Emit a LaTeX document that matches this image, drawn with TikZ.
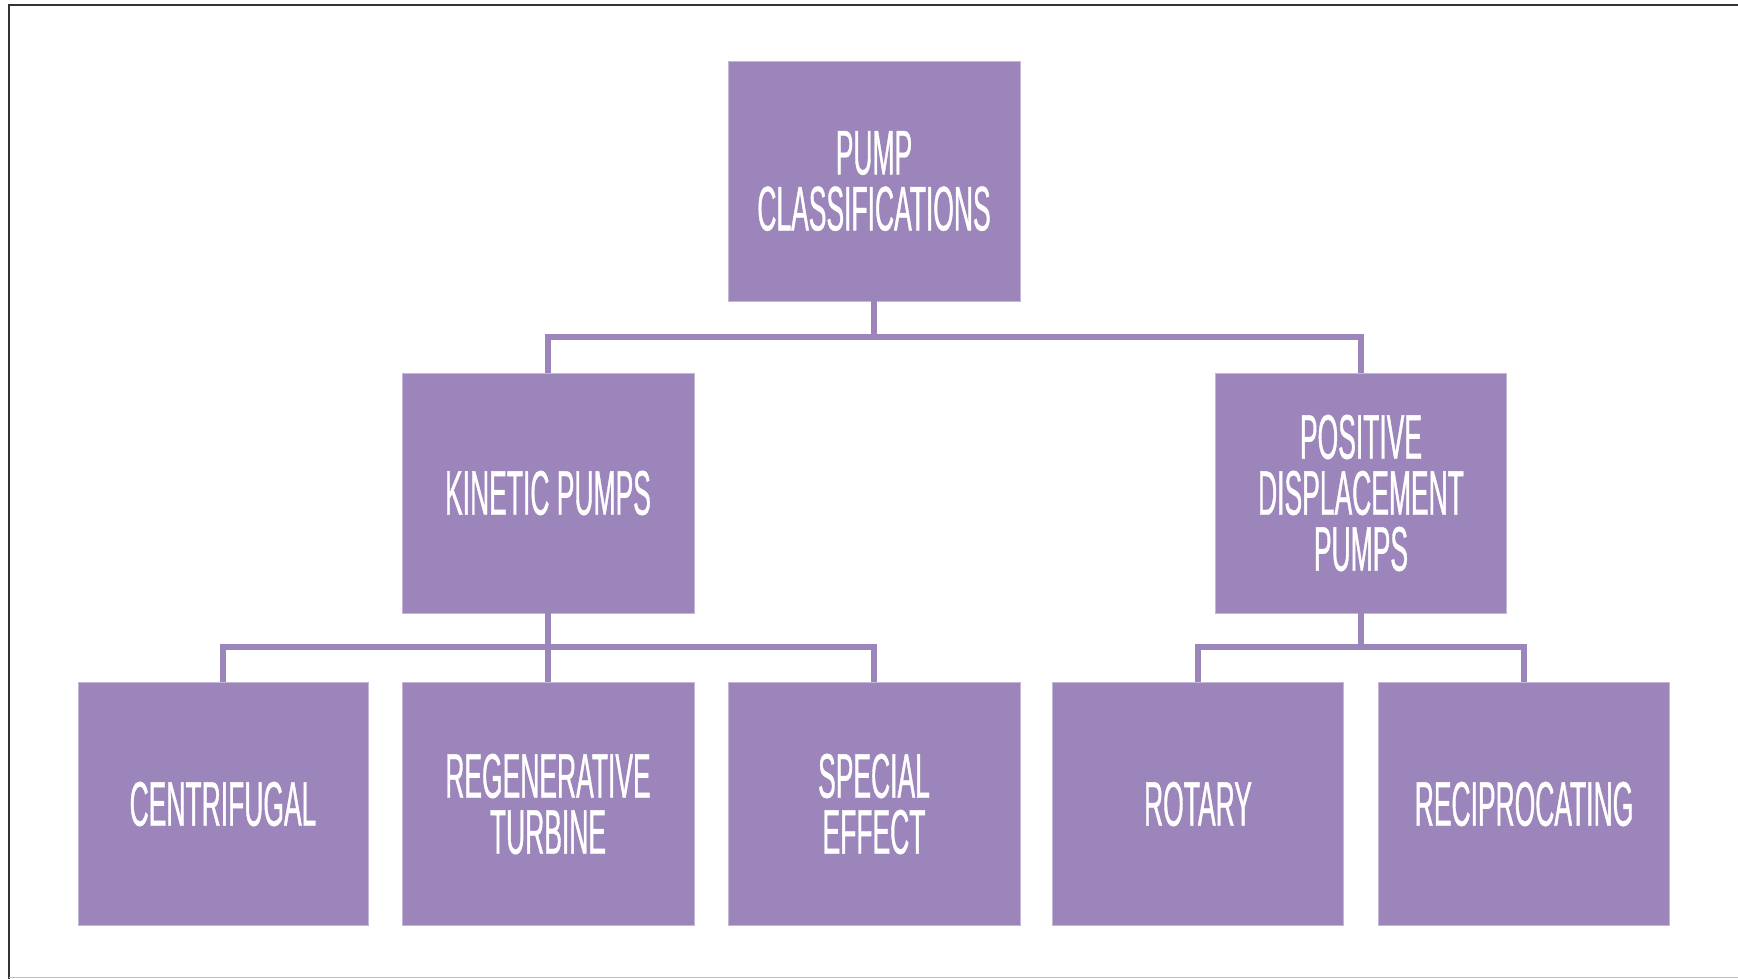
\documentclass[tikz,border=0pt]{standalone}
\usepackage{fontspec}
\newfontfamily\condfont[FakeStretch=0.42,FakeBold=0.6]{Liberation Sans}
\definecolor{pumppurple}{HTML}{9C85BA}
\begin{document}
\begin{tikzpicture}[x=1pt,y=-1pt,
  pbox/.style={fill=pumppurple,draw=pumppurple!60!white,line width=0.8pt,
    text=white,align=center,font=\condfont\fontsize{63}{56}\selectfont,
    inner sep=0pt},
  link/.style={draw=pumppurple,line width=6pt}]
\useasboundingbox (0,0) rectangle (1738,979);
\fill[white] (0,0) rectangle (1738,979);
\draw[black!80,line width=2.5pt] (1738,5) -- (9,5) -- (9,979);
\draw[black!25,line width=1.5pt] (9,977.5) -- (1738,977.5);
% nodes
\node[pbox,minimum width=292pt,minimum height=240pt] (top) at (874,181) {PUMP\\CLASSIFICATIONS};
\node[pbox,minimum width=292pt,minimum height=240pt] (kin) at (548,493) {KINETIC PUMPS};
\node[pbox,minimum width=291pt,minimum height=240pt] (pos) at (1361,493) {POSITIVE\\DISPLACEMENT\\PUMPS};
\node[pbox,minimum width=290pt,minimum height=243pt] (cen) at (223,804) {CENTRIFUGAL};
\node[pbox,minimum width=292pt,minimum height=243pt] (reg) at (548,804) {REGENERATIVE\\TURBINE};
\node[pbox,minimum width=292pt,minimum height=243pt] (spe) at (874,804) {SPECIAL\\EFFECT};
\node[pbox,minimum width=291pt,minimum height=243pt] (rot) at (1198,804) {ROTARY};
\node[pbox,minimum width=291pt,minimum height=243pt] (rec) at (1524,804) {RECIPROCATING};
% connectors
\coordinate (j1) at (874,337);
\coordinate (j2) at (548,647);
\coordinate (j3) at (1361,647);
\draw[link] (top.south) -- (j1);
\draw[link] (kin.north) |- (j1) -| (pos.north);
\draw[link] (kin.south) -- (j2);
\draw[link] (cen.north) |- (j2) -| (spe.north);
\draw[link] (j2) -- (reg.north);
\draw[link] (pos.south) -- (j3);
\draw[link] (rot.north) |- (j3) -| (rec.north);
\end{tikzpicture}
\end{document}
